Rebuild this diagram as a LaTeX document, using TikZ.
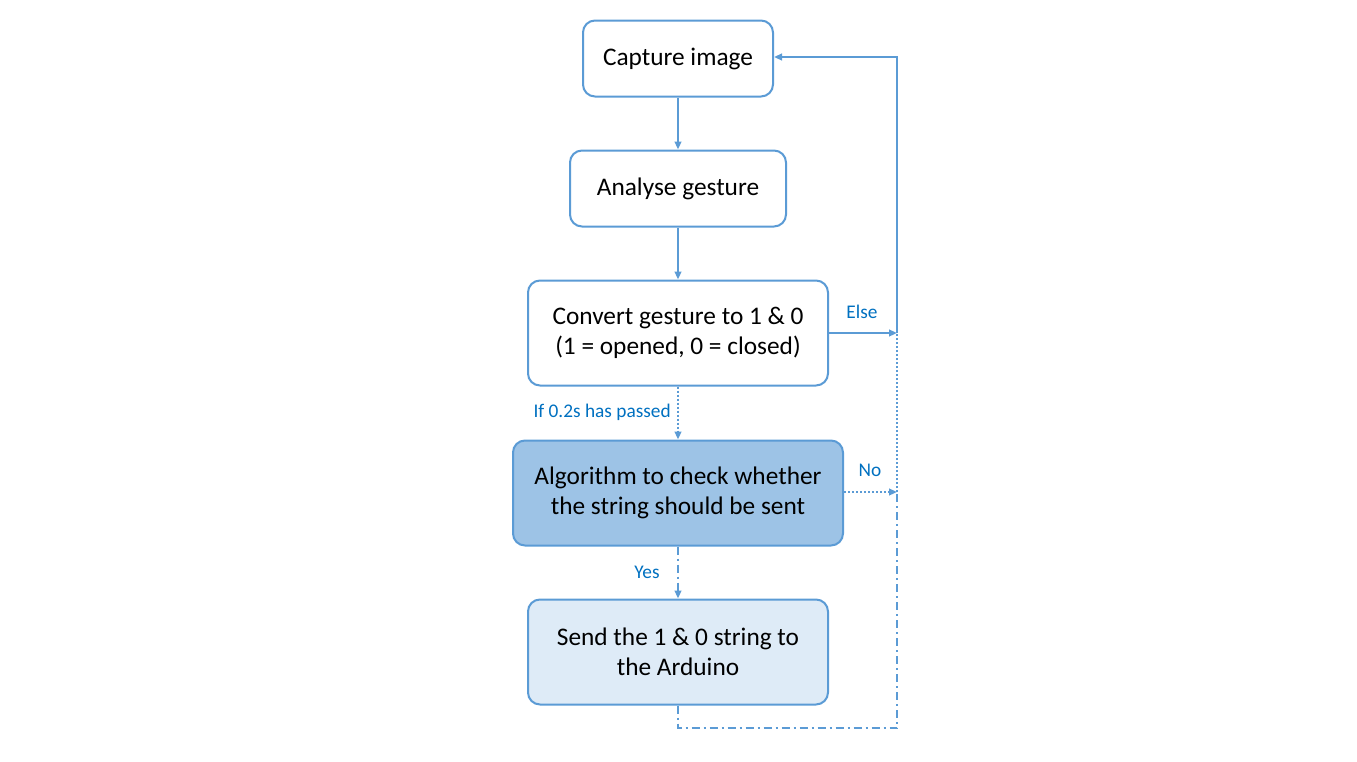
\documentclass[tikz,border=0pt]{standalone}
\usepackage{fontspec}
\setmainfont{Carlito}
\usetikzlibrary{positioning,arrows.meta,calc}
\definecolor{flowLine}{HTML}{5B9BD5}
\definecolor{flowLabel}{HTML}{0070C0}
\definecolor{flowDark}{HTML}{9DC3E6}
\definecolor{flowLight}{HTML}{DEEBF7}

\begin{document}
\begin{tikzpicture}[x=0.75pt, y=-0.75pt, >={Triangle[length=6pt,width=5pt]},
          stepbox/.style={draw=flowLine, line width=1.5pt, rounded corners=9pt, fill=white, font=\fontsize{19}{22.5}\selectfont, align=center, inner sep=0pt},
          link/.style={flowLine, line width=1.5pt},
          dots/.style={link, dash pattern=on 1.5pt off 1.5pt},
          dashdots/.style={link, dash pattern=on 6pt off 3pt on 1.5pt off 3pt},
          tag/.style={text=flowLabel, font=\fontsize{14.5}{17}\selectfont, inner sep=0pt}]
        \useasboundingbox (0,0) rectangle (1357,761);
        \node[stepbox, minimum width=142.5pt, minimum height=57pt] (cap) at (678,58.5) {Capture image};
        \node[stepbox, minimum width=162pt, minimum height=57pt] (ana) at (678,188.5) {Analyse gesture};
        \node[stepbox, minimum width=225pt, minimum height=78.75pt] (conv) at (678,333) {Convert gesture to 1 \& 0\\(1 = opened, 0 = closed)};
        \node[stepbox, fill=flowDark, minimum width=247.5pt, minimum height=78.75pt] (alg) at (678,493) {Algorithm to check whether\\the string should be sent};
        \node[stepbox, fill=flowLight, minimum width=225pt, minimum height=78.75pt] (send) at (678,652) {Send the 1 \& 0 string to\\the Arduino};
        \coordinate (els) at (897,333);
        \coordinate (no) at (897,492);
        \coordinate (low) at (678,728);
        % main column
        \draw[->, link] (cap) -- (ana);
        \draw[->, link] (ana) -- (conv);
        \draw[->, dots] (conv) -- (alg);
        \draw[->, dashdots] (alg) -- (send);
        % loop back on the right
        \draw[->, link] (conv.east |- els) -- (els);
        \draw[->, link] (els) |- (cap.east |- 0,57);
        \draw[->, dots] (alg.east |- no) -- (no);
        \draw[dots] (no) -- (els);
        \draw[dashdots] (send.south) -- (low) -| (no);
        % labels
        \node[tag] (tElse) at (862,312) {Else};
        \node[tag] (tNo) at (870,470) {No};
        \node[tag, anchor=east] (tPass) at (671,412) {If 0.2s has passed};
        \node[tag] (tYes) at (647,572) {Yes};
      \end{tikzpicture}
\end{document}
